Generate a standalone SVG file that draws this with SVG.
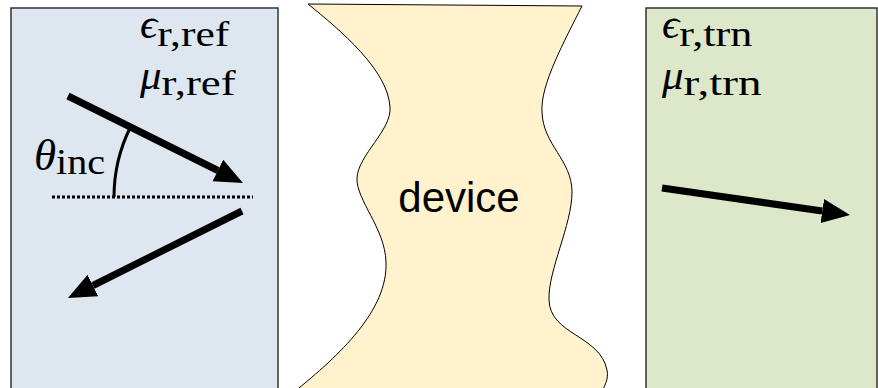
<svg xmlns="http://www.w3.org/2000/svg" width="878" height="388" viewBox="0 0 878 388">
  <style>
    .sym { font-family: "Liberation Serif", "DejaVu Serif", serif; font-style: italic; font-size: 43px; fill: #000; }
    .big { font-size: 45px; }
    .sub { font-family: "Liberation Serif", "DejaVu Serif", serif; font-style: normal; font-size: 35px; fill: #000; }
    .ray { stroke: #000; stroke-width: 7; fill: none; marker-end: url(#head); }
    .lbl { font-family: "Liberation Sans", Arial, sans-serif; font-size: 42px; fill: #000; }
  </style>
  <defs>
    <marker id="head" markerUnits="userSpaceOnUse" markerWidth="30" markerHeight="26" viewBox="0 -13 30 26" refX="0" refY="0" orient="auto">
      <path d="M0,-12 L28,0 L0,12 Z" fill="#000"/>
    </marker>
  </defs>
  <rect width="878" height="388" fill="#ffffff"/>

  <g id="reference-region">
    <rect x="11" y="8" width="267" height="390" fill="#dee6f0" stroke="#333" stroke-width="1.5"/>
    <text x="140" y="38"><tspan class="sym">ϵ</tspan><tspan class="sub" dy="8" textLength="72" lengthAdjust="spacingAndGlyphs">r,ref</tspan></text>
    <text x="140" y="89"><tspan class="sym">μ</tspan><tspan class="sub" dy="6" textLength="74" lengthAdjust="spacingAndGlyphs">r,ref</tspan></text>
    <text x="34" y="170"><tspan class="sym big">θ</tspan><tspan class="sub" dy="4" textLength="49" lengthAdjust="spacingAndGlyphs">inc</tspan></text>
  </g>

  <g id="device">
    <path d="M308,4 L582,6 C565,40 540,85 542,112 C543,145 572,160 572,192 C572,225 548,270 549,300 C550,335 600,335 607,370 C609,380 604,386 602,392 L294,392 C340,355 388,310 386,262 C385,228 356,200 357,178 C358,155 392,130 390,107 C388,70 340,30 308,4 Z" fill="#fff2cc" stroke="#000" stroke-width="1"/>
    <text class="lbl" x="459" y="212" text-anchor="middle">device</text>
  </g>

  <g id="transmission-region">
    <rect x="646" y="8" width="231" height="390" fill="#dde7ca" stroke="#333" stroke-width="1.5"/>
    <text x="662" y="38"><tspan class="sym">ϵ</tspan><tspan class="sub" dy="8" textLength="73" lengthAdjust="spacingAndGlyphs">r,trn</tspan></text>
    <text x="662" y="89"><tspan class="sym">μ</tspan><tspan class="sub" dy="6" textLength="78" lengthAdjust="spacingAndGlyphs">r,trn</tspan></text>
  </g>

  <g id="connectors">
    <line x1="52" y1="197" x2="253" y2="197" stroke="#000" stroke-width="3" stroke-dasharray="3 2"/>
    <path d="M114,197 A157,157 0 0 1 130.5,127" fill="none" stroke="#000" stroke-width="3"/>
    <line class="ray" x1="68" y1="96" x2="217.9" y2="170.5"/>
    <line class="ray" x1="242" y1="211" x2="93" y2="285.5"/>
    <line class="ray" x1="662" y1="188" x2="822.3" y2="211"/>
  </g>
</svg>
